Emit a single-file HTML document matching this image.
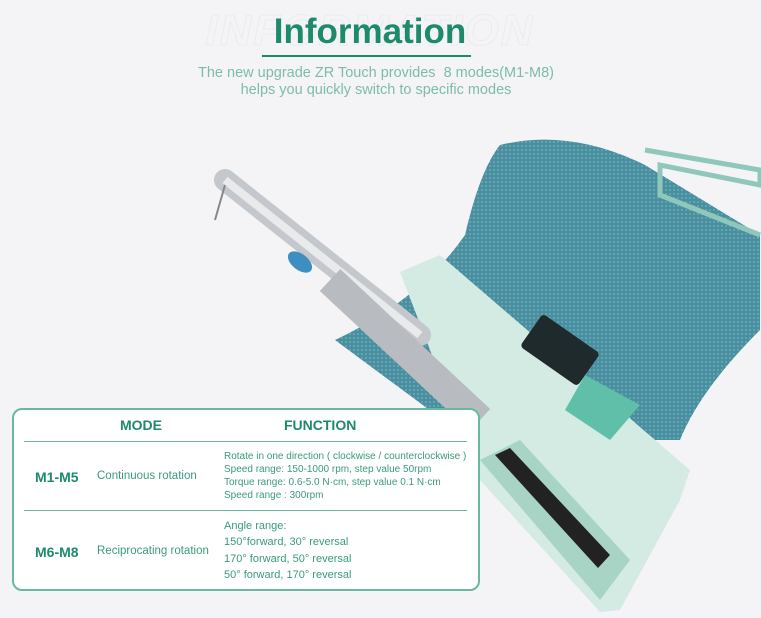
<!DOCTYPE html>
<html><head><style>
body{margin:0;width:761px;height:618px;background:#f4f4f6;font-family:"Liberation Sans",sans-serif;position:relative;overflow:hidden}
.a{position:absolute}
.g{color:#1d8a6c}
.s{color:#3a9a80}
</style></head><body>
<div class="a" style="left:200px;top:6px;width:340px;text-align:center;font-size:44px;font-weight:bold;font-style:italic;color:transparent;-webkit-text-stroke:1px #e9ebee;letter-spacing:2px">INFORMATION</div>
<div class="a g" style="left:180px;top:12px;width:380px;text-align:center;font-size:35px;font-weight:bold">Information</div>
<div class="a" style="left:262px;top:55px;width:209px;height:2px;background:#1d8a6c"></div>
<div class="a" style="left:136px;top:65px;width:480px;text-align:center;font-size:14.5px;line-height:17px;color:#7dbca9">The new upgrade ZR Touch provides&nbsp; 8 modes(M1-M8)<br>helps you quickly switch to specific modes</div>
<svg class="a" style="left:0;top:0" width="761" height="618">
<defs><pattern id="p" width="4" height="4" patternUnits="userSpaceOnUse"><rect width="4" height="4" fill="#4a8f9f"/><circle cx="2" cy="2" r="1" fill="#6aaab7"/></pattern></defs>
<path d="M500,145 Q570,128 645,165 L760,235 L760,330 Q700,390 680,440 L470,440 L335,340 Q420,300 465,235 Q480,170 500,145 Z" fill="url(#p)"/>
<path d="M645,150 L760,170 L760,185 L660,165 L660,195 L760,235" fill="none" stroke="#8fc8bb" stroke-width="5"/>
<polygon points="400,272 440,255 690,470 680,500 620,610 600,612 480,480" fill="#d3ebe3"/>
<polygon points="480,460 520,440 630,560 600,600" fill="#a8d4c6"/>
<polygon points="495,455 510,448 610,555 598,568" fill="#222"/>
<rect x="525" y="330" width="70" height="40" rx="4" transform="rotate(35 560 350)" fill="#1f2a2c"/>
<polygon points="585,375 640,405 610,440 565,410" fill="#5fbfa8"/>
<line x1="225" y1="180" x2="420" y2="335" stroke="#c4c8cc" stroke-width="22" stroke-linecap="round"/>
<line x1="225" y1="180" x2="420" y2="335" stroke="#e8eaec" stroke-width="8"/>
<line x1="330" y1="280" x2="480" y2="420" stroke="#b8bcc0" stroke-width="30"/>
<ellipse cx="300" cy="262" rx="14" ry="8" transform="rotate(38 300 262)" fill="#3e8fc0"/>
<line x1="225" y1="185" x2="215" y2="220" stroke="#888" stroke-width="2"/>
</svg>
<div class="a" style="left:12px;top:408px;width:464px;height:179px;border:2px solid #6ab8a3;border-radius:10px;background:#fff"></div>
<div class="a g" style="left:120px;top:417px;font-size:14px;font-weight:bold">MODE</div>
<div class="a g" style="left:284px;top:417px;font-size:14px;font-weight:bold">FUNCTION</div>
<div class="a" style="left:24px;top:441px;width:443px;height:1px;background:#6ab8a3"></div>
<div class="a" style="left:24px;top:510px;width:443px;height:1px;background:#6ab8a3"></div>
<div class="a g" style="left:35px;top:469px;font-size:14px;font-weight:bold">M1-M5</div>
<div class="a s" style="left:97px;top:470px;font-size:11.5px">Continuous rotation</div>
<div class="a s" style="left:224px;top:450px;font-size:10px;line-height:13px">Rotate in one direction ( clockwise / counterclockwise )<br>Speed range: 150-1000 rpm, step value 50rpm<br>Torque range: 0.6-5.0 N·cm, step value 0.1 N·cm<br>Speed range : 300rpm</div>
<div class="a g" style="left:35px;top:544px;font-size:14px;font-weight:bold">M6-M8</div>
<div class="a s" style="left:97px;top:545px;font-size:11.5px">Reciprocating rotation</div>
<div class="a s" style="left:224px;top:518px;font-size:11px;line-height:16.3px">Angle range:<br>150°forward, 30° reversal<br>170° forward, 50° reversal<br>50° forward, 170° reversal</div>
</body></html>
